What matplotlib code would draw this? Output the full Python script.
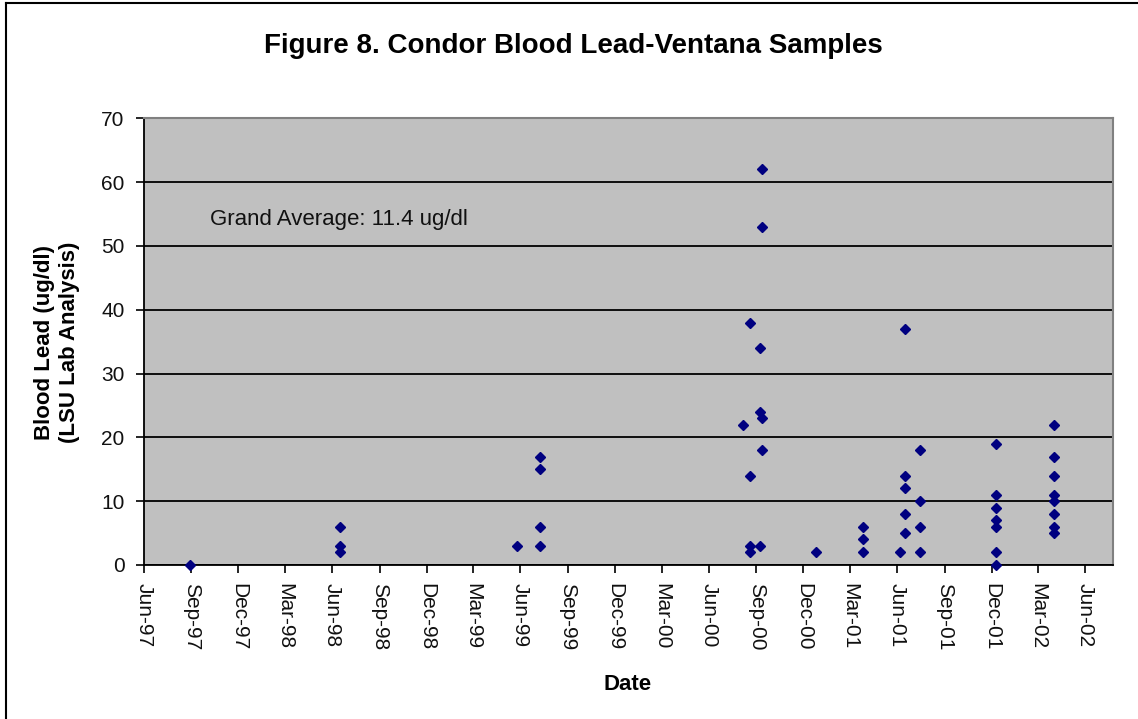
import numpy as np
import pandas as pd
import matplotlib
matplotlib.use('Agg')
import matplotlib.pyplot as plt
import matplotlib.dates as mdates

plt.rcParams['font.family'] = ['Liberation Sans', 'DejaVu Sans']

# sample dates and blood lead values (ug/dl)
sample_dates = (['1997-08-29'] +
                ['1998-06-16'] * 3 +
                ['1999-05-25'] +
                ['1999-07-10'] * 4 +
                ['2000-08-06'] +
                ['2000-08-19'] * 4 +
                ['2000-09-08'] * 3 +
                ['2000-09-12'] * 4 +
                ['2000-12-26'] +
                ['2001-03-26'] * 3 +
                ['2001-06-06'] +
                ['2001-06-17'] * 5 +
                ['2001-07-16'] * 4 +
                ['2001-12-09'] * 7 +
                ['2002-04-01'] * 8)
lead_values = ([0] +
               [6, 3, 2] +
               [3] +
               [17, 15, 6, 3] +
               [22] +
               [38, 14, 3, 2] +
               [34, 24, 3] +
               [62, 53, 23, 18] +
               [2] +
               [6, 4, 2] +
               [2] +
               [37, 14, 12, 8, 5] +
               [18, 10, 6, 2] +
               [19, 11, 9, 7, 6, 2, 0] +
               [22, 17, 14, 11, 10, 8, 6, 5])

title = "Figure 8. Condor Blood Lead-Ventana Samples"
note = "Grand Average: 11.4 ug/dl"

x = pd.to_datetime(sample_dates)

fig = plt.figure(figsize=(11.38, 7.19), dpi=100)
ax = fig.add_axes([144 / 1138, 1 - 565 / 719, 968.7 / 1138, 446.7 / 719])
ax.set_facecolor('#c0c0c0')

ax.plot(x, lead_values, linestyle='none', marker='D', markersize=5.5,
        color='#000080', clip_on=False, zorder=3)

ax.set_ylim(0, 70)
ax.set_yticks(np.arange(0, 71, 10))
ax.set_xlim(pd.Timestamp('1997-06-01'), pd.Timestamp('2002-07-24'))
ax.xaxis.set_major_locator(mdates.MonthLocator(bymonth=[3, 6, 9, 12]))
ax.xaxis.set_major_formatter(mdates.DateFormatter('%b-%y'))

ax.yaxis.grid(True, color='black', linewidth=1.3)
ax.set_axisbelow(True)
for side in ['top', 'right']:
    ax.spines[side].set_color('#808080')
    ax.spines[side].set_linewidth(1.5)
for side in ['left', 'bottom']:
    ax.spines[side].set_color('black')
    ax.spines[side].set_linewidth(1.3)

ax.tick_params(axis='both', direction='out', length=6, width=1.2, labelsize=15,
               labelcolor='#111111')
ax.tick_params(axis='y', pad=8)
ax.tick_params(axis='x', pad=7)
for lab in ax.get_xticklabels():
    lab.set_rotation(270)
    lab.set_ha('center')
    lab.set_va('top')

ax.text(0.068, 54.2 / 70, note, transform=ax.transAxes, fontsize=16,
        va='center', ha='left', color='#111111')

fig.text(573 / 1138, 1 - 46 / 719, title, fontsize=20, fontweight='bold',
         ha='center', va='center')
fig.text(57 / 1138, 1 - 342 / 719, "Blood Lead (ug/dl)\n(LSU Lab Analysis)",
         fontsize=16, fontweight='bold', rotation=90, ha='center', va='center',
         multialignment='center', linespacing=1.3)
fig.text(628 / 1138, 1 - 684 / 719, "Date", fontsize=16, fontweight='bold',
         ha='center', va='center')

# outer chart border (left and top edges visible)
fig.add_artist(plt.Line2D([6 / 1138, 6 / 1138], [0, 1 - 3 / 719],
                          transform=fig.transFigure, color='black', linewidth=1.5))
fig.add_artist(plt.Line2D([6 / 1138, 1], [1 - 3 / 719, 1 - 3 / 719],
                          transform=fig.transFigure, color='black', linewidth=1.5))

plt.savefig('out.png', dpi=100)
